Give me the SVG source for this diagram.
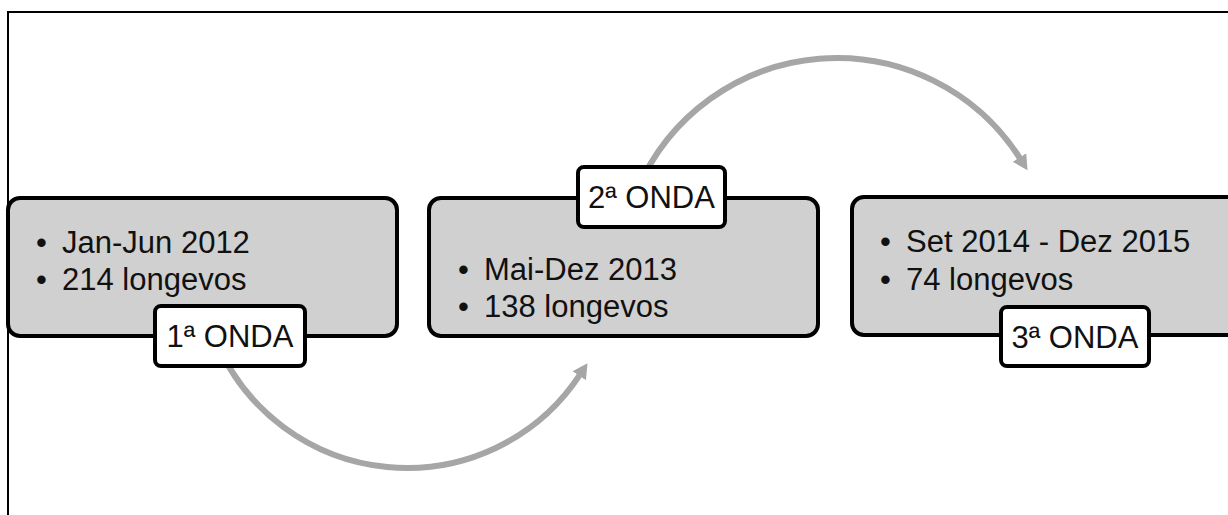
<svg xmlns="http://www.w3.org/2000/svg" width="1228" height="515" viewBox="0 0 1228 515">
<style>
.frame{fill:none;stroke:#000;stroke-width:2}
.box{fill:#d0d0d0;stroke:#000;stroke-width:4}
.lbl{fill:#fff;stroke:#000;stroke-width:4}
.t{font-family:"Liberation Sans",Arial,sans-serif;font-size:31px;fill:#111}
.arc{fill:none;stroke:#a6a6a6;stroke-width:6}
</style>
<defs>
<marker id="ah" markerUnits="userSpaceOnUse" markerWidth="16" markerHeight="18" refX="1" refY="9" orient="auto">
<path d="M0,1 L15,9 L0,17 z" fill="#a6a6a6"/>
</marker>
</defs>
<rect width="1228" height="515" fill="#fff"/>
<path class="frame" d="M8,515 V12 H1228"/>
<g id="connectors">
<path class="arc" d="M215.7,340 A207,207 0 0 0 579.8,374.9" marker-end="url(#ah)"/>
<path class="arc" d="M637.3,190 A217,217 0 0 1 1020,158.4" marker-end="url(#ah)"/>
</g>
<g id="node1">
<rect class="box" x="8" y="198" width="389" height="138" rx="12"/>
<text class="t" x="36" y="253">•</text><text class="t" x="62" y="253">Jan-Jun 2012</text>
<text class="t" x="36" y="290">•</text><text class="t" x="62" y="290">214 longevos</text>
</g>
<g id="label1">
<rect class="lbl" x="155" y="306" width="150" height="60" rx="6"/>
<text class="t" x="230" y="347" text-anchor="middle">1ª ONDA</text>
</g>
<g id="node2">
<rect class="box" x="429" y="198" width="389" height="138" rx="12"/>
<text class="t" x="458" y="280">•</text><text class="t" x="484" y="280">Mai-Dez 2013</text>
<text class="t" x="458" y="317">•</text><text class="t" x="484" y="317">138 longevos</text>
</g>
<g id="label2">
<rect class="lbl" x="578" y="167" width="147" height="60" rx="6"/>
<text class="t" x="651.5" y="208" text-anchor="middle">2ª ONDA</text>
</g>
<g id="node3">
<rect class="box" x="852" y="197" width="400" height="138" rx="12"/>
<text class="t" x="880" y="252">•</text><text class="t" x="906" y="252">Set 2014 - Dez 2015</text>
<text class="t" x="880" y="290">•</text><text class="t" x="906" y="290">74 longevos</text>
</g>
<g id="label3">
<rect class="lbl" x="1001" y="307" width="148" height="59" rx="6"/>
<text class="t" x="1075" y="348" text-anchor="middle">3ª ONDA</text>
</g>
</svg>
